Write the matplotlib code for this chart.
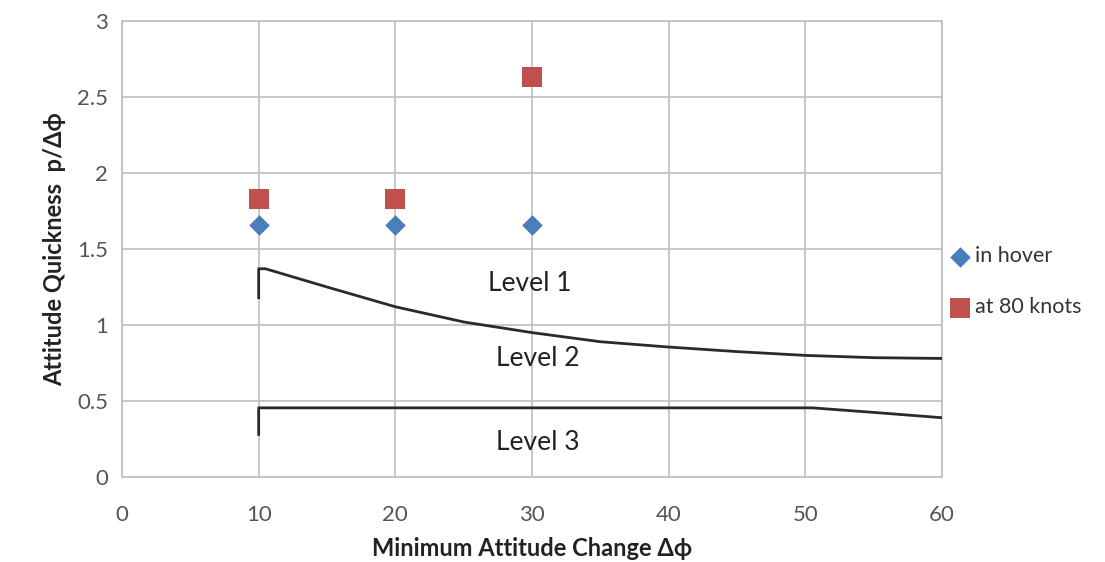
import matplotlib
matplotlib.use("Agg")
import matplotlib.pyplot as plt

plt.rcParams['font.family'] = ['Lato', 'DejaVu Sans']

hover_x = [10, 20, 30]
hover_y = [1.66, 1.66, 1.66]
knots_x = [10, 20, 30]
knots_y = [1.83, 1.83, 2.63]

# Level 1/2 boundary
l12_x = [10, 10, 10.5, 12, 15, 20, 25, 30, 35, 40, 45, 50, 55, 60]
l12_y = [1.18, 1.37, 1.37, 1.33, 1.25, 1.12, 1.02, 0.95, 0.89, 0.855, 0.825, 0.80, 0.785, 0.78]
# Level 2/3 boundary
l23_x = [10, 10, 20, 30, 40, 50.5, 55, 60]
l23_y = [0.28, 0.455, 0.455, 0.455, 0.455, 0.455, 0.425, 0.39]

level_labels = ["Level 1", "Level 2", "Level 3"]
level_pos = [(29.8, 1.27), (30.4, 0.78), (30.4, 0.23)]

fig = plt.figure(figsize=(11.05, 5.62), dpi=100)
ax = fig.add_axes([122/1105, 1-477/562, (942-122)/1105, (477-21)/562])

ax.plot(l12_x, l12_y, color='#2b2b24', lw=2, zorder=3)
ax.plot(l23_x, l23_y, color='#2b2b24', lw=2, zorder=3)

ax.scatter(hover_x, hover_y, marker='D', s=110, color='#4a7ebb', label='in hover', zorder=4, linewidths=0)
ax.scatter(knots_x, knots_y, marker='s', s=220, color='#c0504d', label='at 80 knots', zorder=4, linewidths=0)

for t, (x, y) in zip(level_labels, level_pos):
    ax.text(x, y, t, fontsize=19, ha='center', va='center', color='#222222')

ax.set_xlim(0, 60)
ax.set_ylim(0, 3)
ax.set_xticks(range(0, 61, 10))
ax.set_yticks([0, 0.5, 1, 1.5, 2, 2.5, 3])
ax.set_yticklabels(['0', '0.5', '1', '1.5', '2', '2.5', '3'])
ax.grid(True, color='#bfbfbf', lw=1.2)
ax.set_axisbelow(True)
for s in ax.spines.values():
    s.set_color('#bfbfbf')
    s.set_linewidth(1.2)
ax.tick_params(axis='both', length=0, labelsize=16, colors='#555555')
ax.tick_params(axis='x', pad=20)
ax.tick_params(axis='y', pad=10)
ax.set_xlabel('Minimum Attitude Change Δϕ', fontsize=17, fontweight='bold', color='#222222', labelpad=9)
ax.set_ylabel('Attitude Quickness  p/Δϕ', fontsize=17, fontweight='bold', color='#222222', labelpad=8)

leg = ax.legend(loc='upper left', bbox_to_anchor=(0.985, 0.525), frameon=False, fontsize=15.5,
                handletextpad=-0.3, labelspacing=1.45, borderaxespad=0)
for txt in leg.get_texts():
    txt.set_color('#333333')

fig.savefig('out.png', dpi=100)
